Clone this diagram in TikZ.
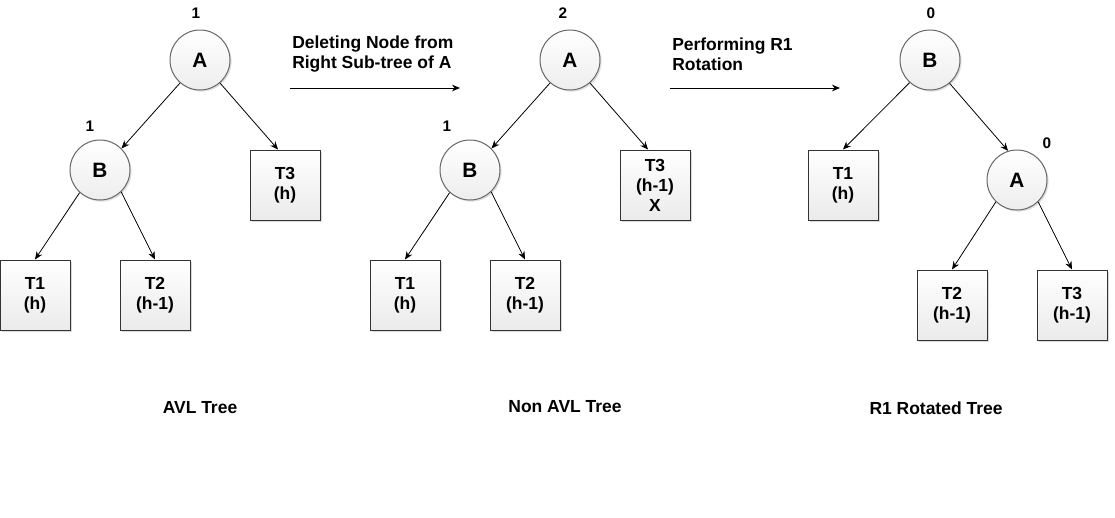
\documentclass[tikz,border=0pt]{standalone}
\usepackage{fontspec}
\setmainfont{Liberation Sans}
\usepackage{tikz}
\usetikzlibrary{arrows.meta,shadows}

\tikzset{
  circnode/.style={circle,draw=black!60,line width=0.75pt,minimum size=45pt,inner sep=0pt,
    top color=white,bottom color=black!7,drop shadow={shadow xshift=1.2pt,shadow yshift=-1.2pt,opacity=0.25},
    font=\fontsize{15.6}{18}\selectfont\bfseries},
  subtree/.style={rectangle,draw=black!80,line width=0.75pt,minimum size=52.5pt,inner sep=0pt,align=center,
    top color=white,bottom color=black!8,drop shadow={shadow xshift=1.5pt,shadow yshift=-1.5pt,opacity=0.3},
    font=\fontsize{13.1}{15}\selectfont\bfseries},
  balance/.style={font=\fontsize{11.5}{13}\selectfont\bfseries},
  caption/.style={font=\fontsize{13.1}{15}\selectfont\bfseries},
  edge/.style={draw,line width=0.6pt,-{Stealth[length=6pt,width=5pt]}}
}

\begin{document}
\begin{tikzpicture}[x=0.75pt,y=-0.75pt]
\useasboundingbox (0,0) rectangle (1115,518);

\node[circnode] (A1) at (200,60) {A};
\node[balance] (hA1) at (196,13) {1};
\node[circnode] (B1) at (100,170) {B};
\node[balance] (hB1) at (90,126) {1};
\node[subtree] (T31) at (285,185) {T3\\(h)};
\node[subtree] (T11) at (35,295) {T1\\(h)};
\node[subtree] (T21) at (155,295) {T2\\(h-1)};
\draw[edge] (A1.-131) -- (B1.45);
\draw[edge] (A1.-49) -- ([xshift=-5.25pt]T31.north);
\draw[edge] (B1.-132) -- (T11.north);
\draw[edge] (B1.-46) -- (T21.north);
\node[caption] (c1) at (200,408) {AVL Tree};

\node[caption,align=left,anchor=west,inner sep=0pt] (m1) at (292,54) {Deleting Node from\\Right Sub-tree of A};
\coordinate (m1s) at (290,88);
\coordinate (m1e) at (460,88);
\draw[edge] (m1s) -- (m1e);

\node[circnode] (A2) at (570,60) {A};
\node[balance] (hA2) at (563,13) {2};
\node[circnode] (B2) at (470,170) {B};
\node[balance] (hB2) at (447,126) {1};
\node[subtree] (T32) at (655,185) {T3\\(h-1)\\X};
\node[subtree] (T12) at (405,295) {T1\\(h)};
\node[subtree] (T22) at (525,295) {T2\\(h-1)};
\draw[edge] (A2.-131) -- (B2.45);
\draw[edge] (A2.-49) -- ([xshift=-5.25pt]T32.north);
\draw[edge] (B2.-132) -- (T12.north);
\draw[edge] (B2.-46) -- (T22.north);
\node[caption] (c2) at (565,407) {Non AVL Tree};

\node[caption,align=left,anchor=west,inner sep=0pt] (m2) at (672,54) {Performing R1\\Rotation};
\coordinate (m2s) at (670,88);
\coordinate (m2e) at (840,88);
\draw[edge] (m2s) -- (m2e);

\node[circnode] (B3) at (930,60) {B};
\node[balance] (hB3) at (931,13) {0};
\node[subtree] (T13) at (843,185) {T1\\(h)};
\node[circnode] (A3) at (1017,180) {A};
\node[balance] (hA3) at (1047,143) {0};
\node[subtree] (T23) at (952,305) {T2\\(h-1)};
\node[subtree] (T33) at (1072,305) {T3\\(h-1)};
\draw[edge] (B3.-132) -- (T13.north);
\draw[edge] (B3.-50) -- (A3.107);
\draw[edge] (A3.-134) -- (T23.north);
\draw[edge] (A3.-46) -- (T33.north);
\node[caption] (c3) at (936,408) {R1 Rotated Tree};
\end{tikzpicture}
\end{document}
